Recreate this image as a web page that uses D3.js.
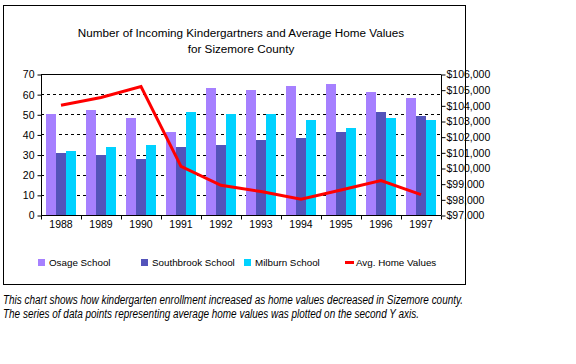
<!DOCTYPE html>
<html>
<head>
<meta charset="utf-8">
<script src="https://cdn.jsdelivr.net/npm/d3@7"></script>
<style>
  body { margin: 0; background: #fff; }
  text { font-family: "Liberation Sans", Arial, sans-serif; fill: #000; }
  .caption { font-style: italic; }
</style>
</head>
<body>
<div id="chart"></div>
<script>
// data
let years = ["1988", "1989", "1990", "1991", "1992", "1993", "1994", "1995", "1996", "1997"];
let osage = [50, 52, 48, 41, 63, 62, 64, 65, 61, 58];
let southbrook = [31, 30, 28, 34, 35, 37, 38, 41, 51, 49];
let milburn = [32, 34, 35, 51, 50, 50, 47, 43, 48, 47];
let homeValues = [104000, 104500, 105200, 100100, 98900, 98500, 98000, 98600, 99200, 98300];
let leftTicks = [0, 10, 20, 30, 40, 50, 60, 70];
let rightTicks = [97000, 98000, 99000, 100000, 101000, 102000, 103000, 104000, 105000, 106000];

let seriesNames = ["Osage School", "Southbrook School", "Milburn School"];
let seriesColors = ["#a680ff", "#5353ba", "#00d2ff"];
let seriesData = [osage, southbrook, milburn];

let width = 576, height = 364;
let plotLeft = 41, plotRight = 441, plotTop = 74, plotBottom = 215;

let svg = d3.select("#chart").append("svg")
  .attr("width", width).attr("height", height);

// outer frame
svg.append("rect")
  .attr("x", 3.5).attr("y", 5.5)
  .attr("width", 462).attr("height", 279)
  .attr("fill", "none").attr("stroke", "#000").attr("stroke-width", 1);

// title
let title = svg.append("text")
  .attr("text-anchor", "middle")
  .attr("font-size", 11.7);
title.append("tspan").attr("x", (plotLeft + plotRight) / 2).attr("y", 37)
  .text("Number of Incoming Kindergartners and Average Home Values");
title.append("tspan").attr("x", (plotLeft + plotRight) / 2).attr("y", 53)
  .text("for Sizemore County");

// scales
let x0 = d3.scaleBand().domain(years).range([plotLeft, plotRight]);
let x1 = d3.scaleBand().domain(seriesNames)
  .range([x0.bandwidth() * 0.125, x0.bandwidth() * 0.875]);
let y = d3.scaleLinear().domain([0, 70]).range([plotBottom, plotTop]);
let y2 = d3.scaleLinear().domain([97000, 106000]).range([plotBottom, plotTop]);

// dotted gridlines
svg.append("g")
  .selectAll("line")
  .data(leftTicks.filter(function(d) { return d > 0 && d < 70; }))
  .enter().append("line")
  .attr("x1", plotLeft).attr("x2", plotRight)
  .attr("y1", function(d) { return Math.round(y(d)) + 0.5; })
  .attr("y2", function(d) { return Math.round(y(d)) + 0.5; })
  .attr("stroke", "#000").attr("stroke-dasharray", "3,3");

// top border of plot
svg.append("line")
  .attr("x1", plotLeft).attr("x2", plotRight)
  .attr("y1", plotTop + 0.5).attr("y2", plotTop + 0.5)
  .attr("stroke", "#000");

// bars
let groups = svg.append("g")
  .selectAll("g")
  .data(years)
  .enter().append("g")
  .attr("transform", function(d) { return "translate(" + x0(d) + ",0)"; });

groups.selectAll("rect")
  .data(function(d, i) {
    return seriesNames.map(function(s, j) { return { name: s, value: seriesData[j][i], color: seriesColors[j] }; });
  })
  .enter().append("rect")
  .attr("x", function(d) { return x1(d.name); })
  .attr("width", x1.bandwidth())
  .attr("y", function(d) { return Math.round(y(d.value)); })
  .attr("height", function(d) { return plotBottom - Math.round(y(d.value)); })
  .attr("fill", function(d) { return d.color; });

// line on second axis
let line = d3.line()
  .x(function(d, i) { return x0(years[i]) + x0.bandwidth() / 2; })
  .y(function(d) { return y2(d); });

svg.append("path")
  .attr("d", line(homeValues))
  .attr("fill", "none")
  .attr("stroke", "#ff0000")
  .attr("stroke-width", 3)
  .attr("stroke-linejoin", "miter");

// axes
let leftAxis = d3.axisLeft(y).tickValues(leftTicks).tickSize(4).tickPadding(3);
let rightAxis = d3.axisRight(y2).tickValues(rightTicks).tickSize(4).tickPadding(1)
  .tickFormat(function(d) { return "$" + d3.format(",")(d); });
let bottomAxis = d3.axisBottom(x0).tickSize(0).tickPadding(5);

let gl = svg.append("g").attr("transform", "translate(" + (plotLeft + 0.5) + ",0.5)").call(leftAxis);
let gr = svg.append("g").attr("transform", "translate(" + (plotRight + 0.5) + ",0.5)").call(rightAxis);
let gb = svg.append("g").attr("transform", "translate(0," + (plotBottom + 0.5) + ")").call(bottomAxis);

[gl, gr, gb].forEach(function(g) {
  g.select(".domain").attr("stroke", "#000");
  g.selectAll(".tick line").attr("stroke", "#000");
  g.selectAll("text").attr("font-size", 10.5).attr("font-family", "Liberation Sans, Arial, sans-serif").attr("fill", "#000");
});
gl.select(".domain").attr("d", "M0," + plotTop + "V" + plotBottom);
gr.select(".domain").attr("d", "M0," + plotTop + "V" + plotBottom);
gb.select(".domain").attr("d", "M" + plotLeft + ",0H" + plotRight);

// category separator ticks on x axis
gb.append("g").selectAll("line")
  .data(years.concat(["end"]))
  .enter().append("line")
  .attr("x1", function(d, i) { return Math.round(plotLeft + i * x0.bandwidth()) + 0.5; })
  .attr("x2", function(d, i) { return Math.round(plotLeft + i * x0.bandwidth()) + 0.5; })
  .attr("y1", 0).attr("y2", 4)
  .attr("stroke", "#000");

// legend
let legendX = [38, 141, 244];
let legend = svg.append("g");
seriesNames.forEach(function(name, i) {
  legend.append("rect")
    .attr("x", legendX[i]).attr("y", 259)
    .attr("width", 7).attr("height", 7)
    .attr("fill", seriesColors[i]);
  legend.append("text")
    .attr("x", legendX[i] + 11).attr("y", 266)
    .attr("font-size", 9.8)
    .text(name);
});
legend.append("rect")
  .attr("x", 345).attr("y", 261)
  .attr("width", 9).attr("height", 3)
  .attr("fill", "#ff0000");
legend.append("text")
  .attr("x", 356).attr("y", 266)
  .attr("font-size", 9.8)
  .text("Avg. Home Values");

// caption
let cap = svg.append("text").attr("class", "caption").attr("font-size", 12);
cap.append("tspan").attr("x", 3).attr("y", 304)
  .attr("textLength", 460).attr("lengthAdjust", "spacingAndGlyphs")
  .text("This chart shows how kindergarten enrollment increased as home values decreased in Sizemore county.");
cap.append("tspan").attr("x", 3).attr("y", 318)
  .attr("textLength", 416).attr("lengthAdjust", "spacingAndGlyphs")
  .text("The series of data points representing average home values was plotted on the second Y axis.");
</script>
</body>
</html>
